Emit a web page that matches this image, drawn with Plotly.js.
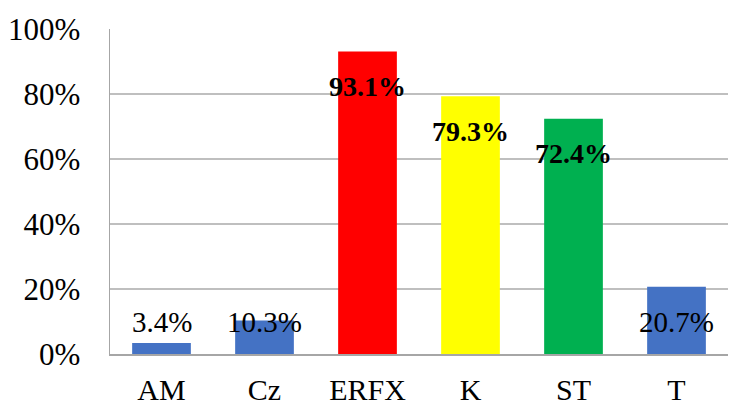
<!DOCTYPE html>
<html><head><meta charset="utf-8">
<script src="https://cdn.plot.ly/plotly-3.0.1.min.js"></script>
<style>html,body{margin:0;padding:0;background:#fff}#c{width:729px;height:405px}</style>
</head><body><div id="c"></div>
<script>
const categories = ["AM", "Cz", "ERFX", "K", "ST", "T"];
const values = [3.4, 10.3, 93.1, 79.3, 72.4, 20.7];
const labels = ["3.4%", "10.3%", "93.1%", "79.3%", "72.4%", "20.7%"];
const colors = ["#4472C4", "#4472C4", "#FF0000", "#FFFF00", "#00B050", "#4472C4"];
const boldLabel = [false, false, true, true, true, false];
const tickVals = [0, 20, 40, 60, 80, 100];
const tickText = ["0%", "20%", "40%", "60%", "80%", "100%"];

const FONT = "Liberation Serif, DejaVu Serif, serif";
const annotations = categories.map((c, i) => ({
  x: c, y: Math.max(values[i] - 10.7, 9.9), xref: 'x', yref: 'y',
  text: boldLabel[i] ? '<b>' + labels[i] + '</b>' : labels[i],
  showarrow: false, yanchor: 'middle',
  font: {family: FONT, size: boldLabel[i] ? 28 : 29, color: '#000'}
}));

Plotly.newPlot('c', [{
  type: 'bar', x: categories, y: values,
  marker: {color: colors, line: {width: 0}},
  width: 0.57, hoverinfo: 'none'
}], {
  width: 729, height: 405,
  margin: {l: 110, r: 1, t: 29, b: 51},
  paper_bgcolor: '#fff', plot_bgcolor: '#fff',
  showlegend: false,
  font: {family: FONT, color: '#000'},
  xaxis: {
    type: 'category', showline: true, linecolor: '#a6a6a6', linewidth: 1.5,
    tickfont: {family: FONT, size: 30, color: '#000'},
    ticks: '', ticklabelstandoff: 8, showgrid: false, zeroline: false
  },
  yaxis: {
    range: [0, 100], tickvals: tickVals, ticktext: tickText,
    showline: true, linecolor: '#a6a6a6', linewidth: 1.5,
    gridcolor: '#bfbfbf', gridwidth: 1.5, zeroline: false,
    tickfont: {family: FONT, size: 31, color: '#000'},
    ticks: '', ticklabelstandoff: 22
  },
  annotations: annotations
}, {staticPlot: true});
</script></body></html>
